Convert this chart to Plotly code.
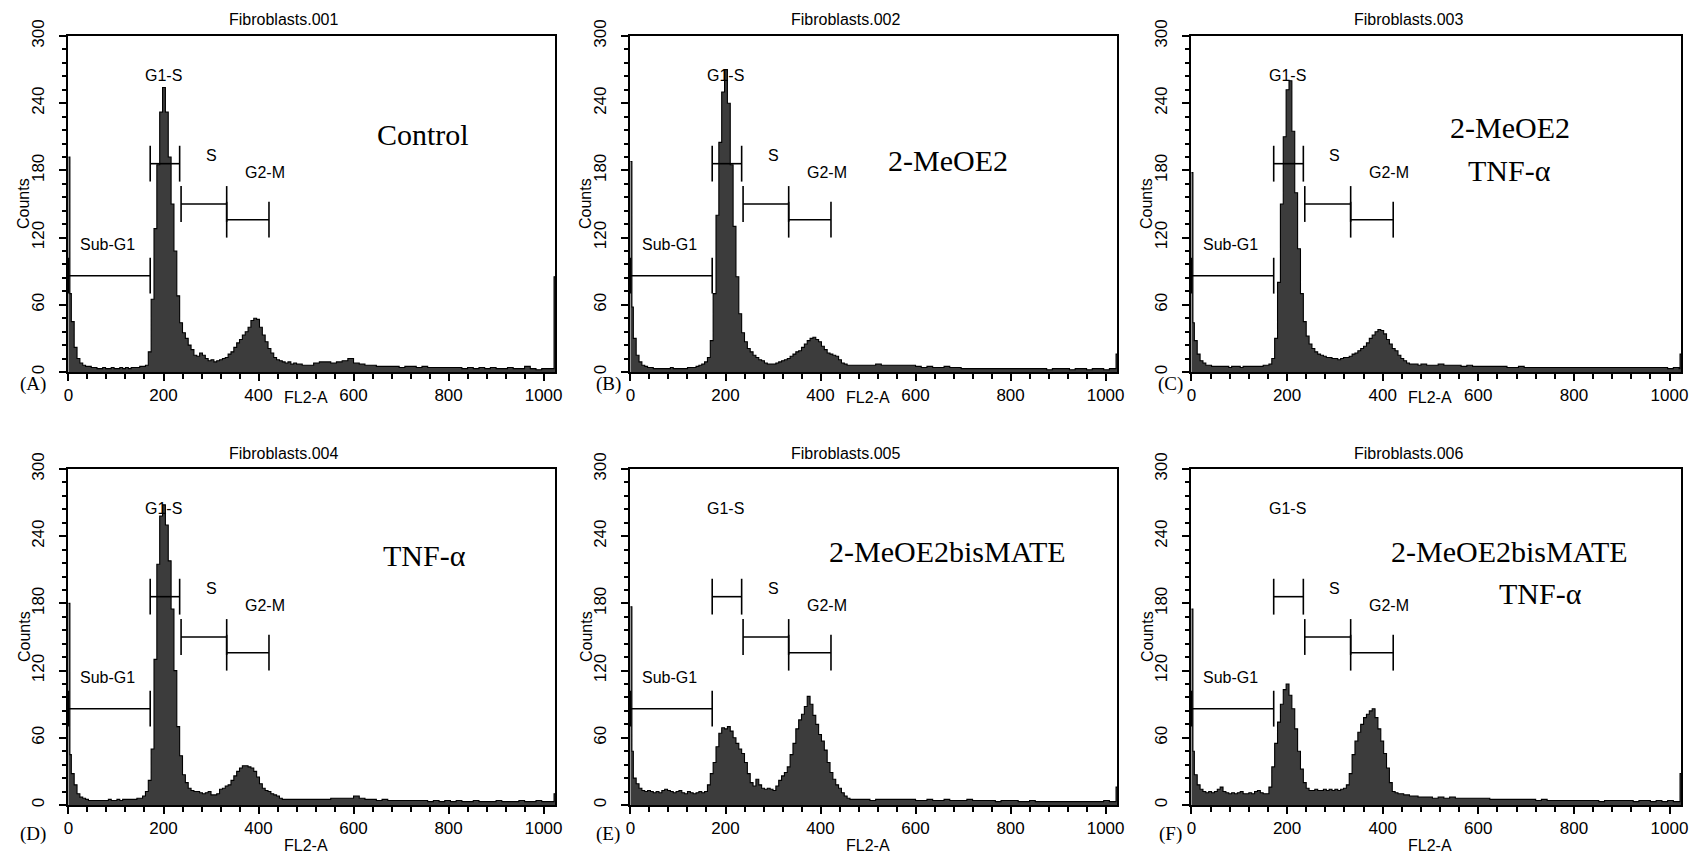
import plotly.graph_objects as go

# ---------------- data ----------------
# Histogram bin starts (FL2-A channel); last bin ends at channel 1024
CHANNELS = [0, 3] + list(range(6, 480, 6)) + list(range(480, 1020, 12)) + [1020, 1022]
CHANNEL_END = 1024

COUNTS_A = ([192, 70]
            + [45, 22, 12, 8, 6, 5, 5, 4, 4, 3]
            + [3, 4, 3, 3, 4, 3, 3, 4, 3, 4]
            + [3, 4, 4, 4, 5, 5, 6, 18, 65, 128]
            + [185, 232, 254, 232, 192, 150, 108, 68, 44, 35]
            + [30, 24, 20, 15, 14, 17, 15, 12, 10, 11]
            + [9, 10, 11, 12, 13, 16, 18, 22, 26, 29]
            + [33, 36, 40, 46, 48, 47, 40, 33, 27, 21]
            + [17, 13, 11, 10, 9, 8, 9, 7, 8]
            + [7, 6, 6, 8, 9, 9, 8, 9, 10]
            + [12, 8, 7, 6, 6, 5, 5, 5, 5]
            + [4, 5, 5, 4, 5, 4, 4, 4, 4]
            + [4, 4, 3, 4, 3, 4, 3, 4, 3]
            + [3, 4, 3, 3, 5, 3, 2, 3, 3]
            + [3, 85])

COUNTS_B = ([188, 58]
            + [30, 15, 9, 6, 5, 4, 4, 3, 3, 3]
            + [3, 3, 3, 4, 3, 3, 3, 3, 3, 4]
            + [4, 4, 5, 6, 7, 9, 13, 28, 70, 140]
            + [205, 250, 270, 240, 185, 130, 85, 52, 35, 27]
            + [21, 18, 15, 13, 11, 10, 8, 7, 7, 7]
            + [8, 9, 10, 11, 12, 14, 16, 18, 19, 22]
            + [25, 28, 30, 31, 29, 27, 23, 20, 17, 16]
            + [15, 14, 11, 8, 7, 6, 6, 6, 6]
            + [6, 6, 6, 7, 6, 6, 6, 6, 6]
            + [6, 5, 4, 5, 4, 4, 5, 4, 4]
            + [3, 3, 3, 3, 3, 3, 3, 3, 3]
            + [3, 3, 3, 3, 3, 3, 2, 3, 3]
            + [3, 2, 3, 3, 2, 3, 3, 2, 3]
            + [3, 16])

COUNTS_C = ([178, 44]
            + [28, 16, 10, 8, 6, 6, 5, 5, 5, 5]
            + [5, 5, 4, 5, 5, 5, 4, 5, 5, 5]
            + [5, 5, 5, 5, 6, 6, 7, 12, 30, 80]
            + [150, 210, 252, 260, 215, 160, 110, 70, 45, 32]
            + [25, 21, 18, 16, 15, 14, 13, 13, 12, 12]
            + [11, 12, 13, 13, 14, 16, 17, 19, 21, 23]
            + [26, 30, 33, 36, 38, 37, 34, 29, 25, 21]
            + [19, 15, 12, 10, 8, 7, 7, 7, 6]
            + [7, 6, 6, 7, 6, 6, 6, 5, 6]
            + [5, 5, 5, 5, 5, 5, 4, 4, 5]
            + [4, 4, 4, 4, 4, 4, 4, 4, 4]
            + [4, 4, 4, 4, 4, 4, 4, 4, 4]
            + [4, 4, 4, 4, 4, 4, 4, 3, 4]
            + [3, 16])

COUNTS_D = ([180, 45]
            + [28, 18, 10, 7, 6, 5, 4, 4, 4, 4]
            + [4, 4, 4, 5, 4, 4, 5, 4, 5, 5]
            + [5, 5, 5, 6, 6, 8, 12, 22, 50, 130]
            + [215, 258, 268, 250, 218, 175, 120, 70, 44, 27]
            + [20, 15, 13, 12, 12, 11, 10, 11, 12, 9]
            + [9, 10, 14, 15, 17, 18, 22, 26, 30, 33]
            + [35, 35, 34, 33, 30, 25, 19, 15, 13, 12]
            + [10, 9, 8, 6, 5, 5, 5, 5, 5]
            + [5, 5, 5, 5, 5, 5, 6, 6, 6]
            + [6, 8, 6, 5, 5, 4, 5, 4, 4]
            + [4, 4, 4, 4, 4, 3, 4, 3, 4]
            + [3, 4, 3, 3, 4, 3, 3, 3, 4]
            + [3, 3, 3, 4, 3, 3, 4, 3, 3]
            + [3, 10])

COUNTS_E = ([177, 48]
            + [24, 19, 15, 13, 12, 13, 12, 11, 12, 11]
            + [13, 14, 13, 12, 11, 12, 13, 11, 10, 12]
            + [11, 10, 11, 12, 11, 12, 18, 28, 38, 52]
            + [64, 69, 68, 70, 66, 60, 55, 50, 46, 38]
            + [28, 20, 17, 23, 18, 15, 14, 15, 14, 13]
            + [17, 22, 26, 29, 34, 45, 55, 68, 76, 81]
            + [88, 97, 90, 80, 72, 63, 57, 49, 38, 29]
            + [23, 18, 15, 11, 8, 6, 5, 5, 5]
            + [5, 5, 4, 5, 5, 5, 5, 5, 5]
            + [5, 4, 4, 5, 4, 4, 5, 4, 4]
            + [4, 5, 4, 4, 4, 4, 3, 4, 4]
            + [4, 3, 3, 4, 3, 3, 3, 3, 3]
            + [3, 3, 3, 3, 3, 3, 3, 4, 3]
            + [3, 16])

COUNTS_F = ([175, 48]
            + [27, 18, 14, 12, 11, 12, 11, 12, 14, 16]
            + [12, 11, 10, 11, 10, 11, 12, 10, 10, 11]
            + [10, 12, 13, 11, 10, 10, 16, 34, 55, 74]
            + [90, 103, 108, 98, 86, 68, 48, 32, 20, 15]
            + [13, 13, 14, 13, 13, 14, 13, 14, 13, 14]
            + [13, 14, 15, 18, 28, 45, 57, 65, 72, 78]
            + [81, 84, 86, 78, 68, 57, 46, 33, 20, 12]
            + [11, 10, 10, 9, 9, 8, 8, 8, 7]
            + [7, 7, 6, 7, 6, 7, 6, 6, 6]
            + [6, 6, 6, 5, 5, 5, 5, 5, 5]
            + [5, 5, 4, 5, 4, 4, 4, 4, 4]
            + [4, 4, 4, 4, 3, 4, 4, 4, 4]
            + [4, 3, 4, 4, 3, 4, 3, 4, 3]
            + [3, 28])

PANEL_TITLES = ["Fibroblasts.001", "Fibroblasts.002", "Fibroblasts.003",
                "Fibroblasts.004", "Fibroblasts.005", "Fibroblasts.006"]
PANEL_LETTERS = ["(A)", "(B)", "(C)", "(D)", "(E)", "(F)"]
PANEL_COUNTS = [COUNTS_A, COUNTS_B, COUNTS_C, COUNTS_D, COUNTS_E, COUNTS_F]

# condition labels: (text, channel, count) per panel
CONDITION_LABELS = [
    [("Control", 746, 212)],
    [("2-MeOE2", 668, 189)],
    [("2-MeOE2", 666, 218), ("TNF-α", 666, 180)],
    [("TNF-α", 749, 223)],
    [("2-MeOE2bisMATE", 667, 226)],
    [("2-MeOE2bisMATE", 665, 226), ("TNF-α", 730, 189)],
]

# cell-cycle gates (markers)
GATE_NAMES = ["Sub-G1", "G1-S", "S", "G2-M"]
GATE_START = [0, 172, 237, 333]
GATE_END = [172, 234, 333, 422]
GATE_LEVEL = [86, 186, 150, 136]
GATE_LABEL_X = [82, 200, 300, 414]
GATE_LABEL_Y = [114, 265, 193, 178]

X_TICKS = [0, 200, 400, 600, 800, 1000]
Y_TICKS = [0, 60, 120, 180, 240, 300]

# ---------------- layout constants (pixels) ----------------
W, H = 1690, 858
COL_PX = [(68, 555), (630, 1117), (1191, 1681)]
ROW_PX = [(36, 372), (469, 805)]
XTITLE_OFF = [26, 40]
LETTER_Y = [384, 834]
LETTER_X = [33, 608, 1170]
CAP = 16

SANS = "Liberation Sans, Arial, sans-serif"
SERIF = "Liberation Serif, Times New Roman, serif"
FILL = "#3c3c3c"


def px(x):
    return x / W


def py(y):
    return 1 - y / H


fig = go.Figure()
annotations = []

for i in range(6):
    r, c = divmod(i, 3)
    ax = "" if i == 0 else str(i + 1)
    xa, ya = "x" + ax, "y" + ax
    counts = PANEL_COUNTS[i]
    xs = CHANNELS + [CHANNEL_END]
    ys = counts + [counts[-1]]
    fig.add_trace(go.Scatter(
        x=xs, y=ys, mode="lines", line=dict(shape="hv", color="black", width=1.1),
        fill="tozeroy", fillcolor=FILL, xaxis=xa, yaxis=ya,
        hoverinfo="skip", showlegend=False))

    # gates
    gx, gy = [], []
    for s, e, lv in zip(GATE_START, GATE_END, GATE_LEVEL):
        gx += [s, e, None, s, s, None, e, e, None]
        gy += [lv, lv, None, lv - CAP, lv + CAP, None, lv - CAP, lv + CAP, None]
    fig.add_trace(go.Scatter(x=gx, y=gy, mode="lines",
                             line=dict(color="black", width=1.6),
                             xaxis=xa, yaxis=ya, hoverinfo="skip", showlegend=False))
    for name, lx, ly in zip(GATE_NAMES, GATE_LABEL_X, GATE_LABEL_Y):
        annotations.append(dict(x=lx, y=ly, xref=xa, yref=ya, text=name, showarrow=False,
                                font=dict(family=SANS, size=16, color="black"),
                                xanchor="center", yanchor="middle"))
    for txt, lx, ly in CONDITION_LABELS[i]:
        annotations.append(dict(x=lx, y=ly, xref=xa, yref=ya, text=txt, showarrow=False,
                                font=dict(family=SERIF, size=30, color="black"),
                                xanchor="center", yanchor="middle"))

    x0, x1 = COL_PX[c]
    y0, y1 = ROW_PX[r]
    xaxis = dict(domain=[px(x0), px(x1)], range=[-1, 1024], anchor=ya, automargin=False,
                 showline=True, mirror=True, linecolor="black", linewidth=2,
                 showgrid=False, zeroline=False,
                 tickmode="array", tickvals=X_TICKS, ticks="outside", ticklen=7,
                 tickwidth=1.5, tickcolor="black",
                 minor=dict(dtick=40, tick0=0, ticks="outside", ticklen=5,
                            tickwidth=1.5, tickcolor="black"),
                 tickfont=dict(family=SANS, size=17, color="black"))
    yaxis = dict(domain=[py(y1), py(y0)], range=[0, 300], anchor=xa, automargin=False,
                 showline=True, mirror=True, linecolor="black", linewidth=2,
                 showgrid=False, zeroline=False,
                 tickmode="array", tickvals=Y_TICKS, ticks="outside", ticklen=7,
                 tickwidth=1.5, tickcolor="black", tickangle=-90,
                 minor=dict(dtick=12, tick0=0, ticks="outside", ticklen=4,
                            tickwidth=1.5, tickcolor="black"),
                 tickfont=dict(family=SANS, size=17, color="black"),
                 ticklabelstandoff=8)
    fig.update_layout(**{"xaxis" + ax: xaxis, "yaxis" + ax: yaxis})

    # panel title
    annotations.append(dict(x=px((x0 + x1) / 2 - 28), y=py(y0 - 16), xref="paper", yref="paper",
                            text=PANEL_TITLES[i], showarrow=False,
                            font=dict(family=SANS, size=16, color="black"),
                            xanchor="center", yanchor="middle"))
    # x axis title
    annotations.append(dict(x=px((x0 + x1) / 2 - 6), y=py(y1 + XTITLE_OFF[r]), xref="paper",
                            yref="paper", text="FL2-A", showarrow=False,
                            font=dict(family=SANS, size=16, color="black"),
                            xanchor="center", yanchor="middle"))
    # y axis title
    annotations.append(dict(x=px(x0 - 44), y=py((y0 + y1) / 2), xref="paper", yref="paper",
                            text="Counts", showarrow=False, textangle=-90,
                            font=dict(family=SANS, size=16, color="black"),
                            xanchor="center", yanchor="middle"))
    # panel letter
    annotations.append(dict(x=px(LETTER_X[c]), y=py(LETTER_Y[r]), xref="paper", yref="paper",
                            text=PANEL_LETTERS[i], showarrow=False,
                            font=dict(family=SERIF, size=19, color="black"),
                            xanchor="center", yanchor="middle"))

fig.update_layout(width=W, height=H, margin=dict(l=0, r=0, t=0, b=0, autoexpand=False),
                  paper_bgcolor="white", plot_bgcolor="white",
                  annotations=annotations, showlegend=False)

fig.write_html("out.html", config={"displayModeBar": False},
               post_script="document.body.style.margin='0';document.body.style.overflow='hidden';")
